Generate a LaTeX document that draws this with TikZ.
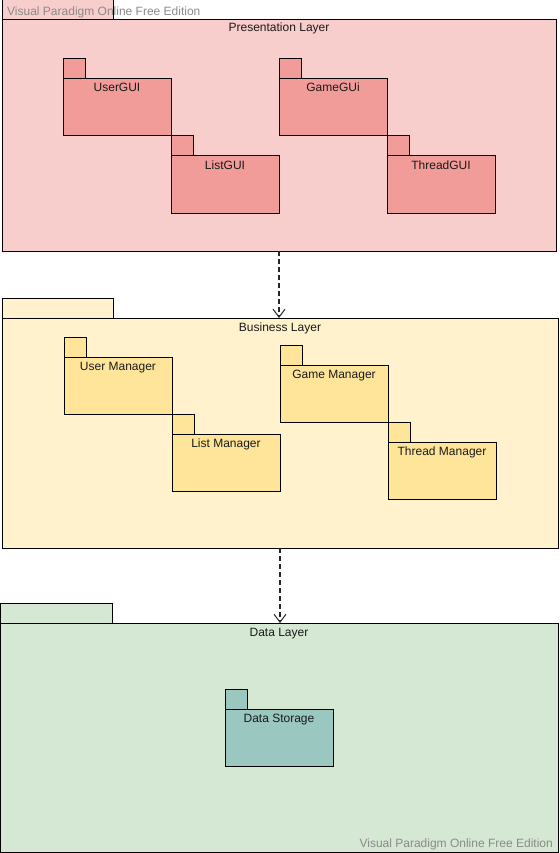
\documentclass[tikz,border=0pt]{standalone}
\usepackage{fontspec}
\setmainfont{Liberation Sans}
\usetikzlibrary{arrows.meta}
\definecolor{presfill}{HTML}{F8CECC}
\definecolor{prespkg}{HTML}{F19C99}
\definecolor{busfill}{HTML}{FFF2CC}
\definecolor{buspkg}{HTML}{FFE599}
\definecolor{datafill}{HTML}{D5E8D4}
\definecolor{datapkg}{HTML}{9AC7BF}
\definecolor{wmark}{HTML}{8A8A8A}
\definecolor{txt}{HTML}{1A1A1A}
\tikzset{
  box/.style={draw=black, line width=1pt, anchor=north west, inner sep=0pt, outer sep=0pt},
  preslayer/.style={box, fill=presfill},
  buslayer/.style={box, fill=busfill},
  datalayer/.style={box, fill=datafill},
  prespack/.style={box, fill=prespkg},
  buspack/.style={box, fill=buspkg},
  datapack/.style={box, fill=datapkg},
  lbl/.style={anchor=base, inner sep=0pt, text=txt, font=\fontsize{12}{14}\selectfont},
  wm/.style={inner sep=0pt, text=wmark, font=\fontsize{12}{14}\selectfont},
  dep/.style={draw=black!85, line width=1.3pt, dash pattern=on 5pt off 3pt, -{Straight Barb[length=8pt,width=12pt,line width=1pt]}}
}
% #1 name, #2 x, #3 y of body top, #4 style, #5 label
\newcommand{\umlpkg}[5]{%
  \node[#4, minimum width=22pt, minimum height=20pt] (#1tab) at (#2,{#3-20}) {};
  \node[#4, minimum width=108pt, minimum height=57pt] (#1) at (#2,#3) {};
  \node[lbl] (#1lbl) at ([yshift=-13pt]#1.north) {#5};
}
\begin{document}
\begin{tikzpicture}[x=1pt,y=-1pt]
\useasboundingbox (0,0) rectangle (559,853);
% Presentation layer
\node[preslayer, minimum width=111pt, minimum height=20pt] (prestab) at (2,0) {};
\node[preslayer, minimum width=554pt, minimum height=231pt] (pres) at (2,20) {};
\node[lbl] (preslbl) at ([yshift=-12pt]pres.north) {Presentation Layer};
\umlpkg{usergui}{63}{79}{prespack}{UserGUI}
\umlpkg{listgui}{171}{156}{prespack}{ListGUI}
\umlpkg{gamegui}{279}{79}{prespack}{GameGUi}
\umlpkg{threadgui}{387}{156}{prespack}{ThreadGUI}
% Business layer
\node[buslayer, minimum width=111pt, minimum height=20pt] (bustab) at (2,298) {};
\node[buslayer, minimum width=556pt, minimum height=230pt] (bus) at (2,318) {};
\node[lbl] (buslbl) at ([yshift=-13pt]bus.north) {Business Layer};
\umlpkg{userman}{64}{357}{buspack}{User Manager}
\umlpkg{listman}{172}{434}{buspack}{List Manager}
\umlpkg{gameman}{280}{365}{buspack}{Game Manager}
\umlpkg{threadman}{388}{442}{buspack}{Thread Manager}
% Data layer
\node[datalayer, minimum width=112pt, minimum height=20pt] (datatab) at (0,603) {};
\node[datalayer, minimum width=558pt, minimum height=229pt] (data) at (0,623) {};
\node[lbl] (datalbl) at ([yshift=-13pt]data.north) {Data Layer};
\umlpkg{storage}{225}{709}{datapack}{Data Storage}
% Dependencies
\draw[dep] (pres.south) -- (pres.south |- bus.north);
\draw[dep] (bus.south) -- (bus.south |- data.north);
% Watermarks
\node[wm, anchor=base west] (wm1) at (7,16) {Visual Paradigm Online Free Edition};
\node[wm, anchor=base east] (wm2) at (553,847) {Visual Paradigm Online Free Edition};
\end{tikzpicture}
\end{document}
